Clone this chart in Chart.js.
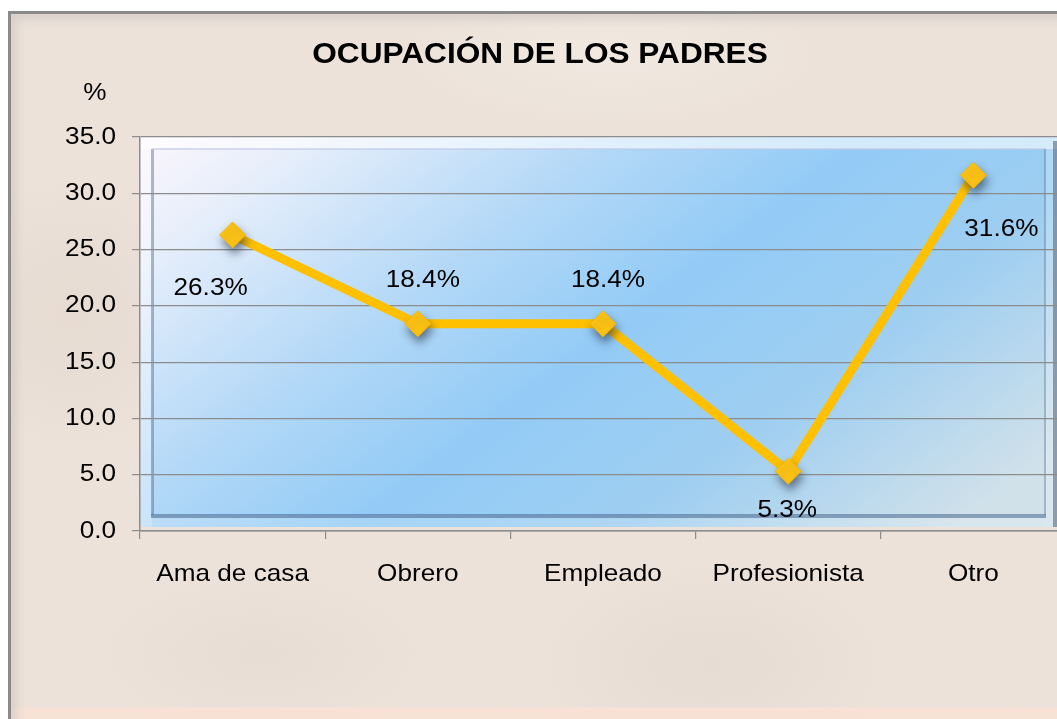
<!DOCTYPE html>
<html>
<head>
<meta charset="utf-8">
<script src="https://cdn.jsdelivr.net/npm/chart.js@4/dist/chart.umd.min.js"></script>
<style>
html,body{margin:0;padding:0;overflow:hidden;background:#fff;}
#slide{position:absolute;left:0;top:0;width:1057px;height:719px;overflow:hidden;background:#fff;}
#frame{position:absolute;left:8px;top:11px;width:1100px;height:740px;border:3px solid #8a8a8a;
  background:
    linear-gradient(to bottom, rgba(250,226,214,0) 693px, rgba(250,226,214,0.85) 694px),
    radial-gradient(ellipse 260px 150px at 700px 650px, rgba(215,205,200,0.30), rgba(215,205,200,0) 70%),
    radial-gradient(ellipse 300px 100px at 600px 40px, rgba(250,245,240,0.35), rgba(250,245,240,0) 70%),
    radial-gradient(ellipse 200px 200px at 60px 300px, rgba(220,205,195,0.35), rgba(220,205,195,0) 70%),
    radial-gradient(ellipse 250px 120px at 250px 640px, rgba(225,212,204,0.35), rgba(225,212,204,0) 70%),
    #ece2d9;
  box-shadow: inset 12px 12px 8px -6px rgba(200,195,190,0.55);}
canvas{position:absolute;left:0;top:0;}
</style>
</head>
<body>
<div id="slide">
  <div id="frame"></div>
  <canvas id="c" width="1080" height="740"></canvas>
</div>
<script>
// ---- data ----
const categories = ['Ama de casa', 'Obrero', 'Empleado', 'Profesionista', 'Otro'];
const values = [26.3, 18.4, 18.4, 5.3, 31.6];
const valueLabels = ['26.3%', '18.4%', '18.4%', '5.3%', '31.6%'];
const titleText = 'OCUPACIÓN DE LOS PADRES';
const yUnitText = '%';
const yMin = 0, yMax = 35, yStep = 5;

// ---- styling ----
const FONT = 'Arial, "Liberation Sans", sans-serif';
const SX = 1.09; // horizontal stretch of text in the reference
const labelOffsets = [[-22, 60], [5, -37], [5, -37], [-1, 46], [28, 61]];

const stretchText = {
  id: 'stretchText',
  beforeInit(chart) {
    const ctx = chart.ctx;
    const orig = ctx.fillText;
    ctx.fillText = function (t, x, y, mw) {
      this.save();
      this.translate(x, y);
      this.scale(SX, 1);
      if (mw === undefined) orig.call(this, t, 0, 0); else orig.call(this, t, 0, 0, mw / SX);
      this.restore();
    };
  }
};

const frame = {
  id: 'frame',
  beforeDraw(chart) {
    const ctx = chart.ctx;
    const a = chart.chartArea;
    const L = a.left, T = a.top, R = 1057, B = 527;
    const bw = 12;
    ctx.save();
    const g = ctx.createLinearGradient(L, T, L + 480, T + 640);
    g.addColorStop(0, '#fbf5fd');
    g.addColorStop(0.12, '#e8effb');
    g.addColorStop(0.35, '#b5d9f7');
    g.addColorStop(0.55, '#93cbf6');
    g.addColorStop(0.75, '#9ecef1');
    g.addColorStop(1, '#d0e1ea');
    ctx.fillStyle = g;
    ctx.fillRect(L, T, R - L, B - T);
    // bevel bands
    ctx.fillStyle = 'rgba(255,255,255,0.6)';
    ctx.fillRect(L, T, R - L, bw);
    ctx.fillStyle = 'rgba(255,255,255,0.35)';
    ctx.fillRect(L, T + bw, bw, B - T - bw);
    ctx.fillStyle = 'rgba(255,255,255,0.22)';
    ctx.fillRect(R - bw, T + bw, bw, B - T - bw);
    ctx.fillStyle = 'rgba(255,255,255,0.18)';
    ctx.fillRect(L + bw, B - bw, R - L - 2 * bw, bw);
    // inner edges
    ctx.fillStyle = 'rgba(80,105,140,0.45)';
    ctx.fillRect(L + bw - 1, T + bw, 3, B - T - 2 * bw);
    ctx.fillStyle = 'rgba(70,100,140,0.55)';
    ctx.fillRect(L + bw - 1, B - bw - 1, R - L - 2 * bw + 2, 4);
    ctx.fillStyle = 'rgba(190,200,230,0.6)';
    ctx.fillRect(L + bw, T + bw - 1, R - L - 2 * bw, 2);
    ctx.fillStyle = 'rgba(90,110,140,0.4)';
    ctx.fillRect(R - bw - 1, T + bw, 2, B - T - 2 * bw);
    ctx.fillStyle = 'rgba(90,105,125,0.6)';
    ctx.fillRect(R - 4, T + 4, 4, B - T - 4);
    ctx.restore();
  },
  afterDraw(chart) {
    const ctx = chart.ctx;
    ctx.save();
    ctx.fillStyle = '#000';
    ctx.textBaseline = 'alphabetic';
    ctx.textAlign = 'center';
    ctx.font = 'bold 29px ' + FONT;
    ctx.fillText(titleText, 540, 63);
    ctx.font = '24px ' + FONT;
    ctx.fillText(yUnitText, 95, 100);
    ctx.restore();
  }
};

const pointShadow = {
  id: 'pointShadow',
  beforeDatasetDraw(chart, args) {
    if (args.index === 1) {
      const ctx = chart.ctx;
      ctx.save();
      ctx.shadowColor = 'rgba(40,50,70,0.6)';
      ctx.shadowBlur = 9;
      ctx.shadowOffsetX = 2;
      ctx.shadowOffsetY = 6;
    }
  },
  afterDatasetDraw(chart, args) {
    if (args.index === 1) chart.ctx.restore();
  }
};

const dataLabels = {
  id: 'dataLabels',
  afterDatasetsDraw(chart) {
    const ctx = chart.ctx;
    const meta = chart.getDatasetMeta(1);
    ctx.save();
    ctx.fillStyle = '#000';
    ctx.font = '24px ' + FONT;
    ctx.textAlign = 'center';
    ctx.textBaseline = 'alphabetic';
    meta.data.forEach((pt, i) => {
      const o = labelOffsets[i];
      ctx.fillText(valueLabels[i], pt.x + o[0], pt.y + o[1]);
    });
    ctx.restore();
  }
};

new Chart(document.getElementById('c'), {
  type: 'line',
  data: {
    labels: categories,
    datasets: [
      {
        data: values,
        borderColor: '#ffc000',
        borderWidth: 9,
        pointRadius: 0,
        pointHoverRadius: 0,
        tension: 0,
        fill: false,
        order: 2
      },
      {
        data: values,
        showLine: false,
        pointStyle: 'rectRot',
        pointRadius: 13,
        pointBackgroundColor: '#ffc414',
        pointBorderColor: '#f5b800',
        pointBorderWidth: 1,
        order: 1
      }
    ]
  },
  options: {
    responsive: false,
    animation: false,
    devicePixelRatio: 1,
    events: [],
    layout: { padding: { top: 137, left: 0, right: 12, bottom: 0 } },
    plugins: { legend: { display: false }, title: { display: false }, tooltip: { enabled: false } },
    scales: {
      x: {
        offset: true,
        grid: { offset: true, drawOnChartArea: false, tickLength: 8, color: '#8c8c8c', lineWidth: 1.2 },
        border: { display: true, color: '#8c8c8c', width: 1.5 },
        ticks: { color: '#000', font: { family: FONT, size: 24 }, padding: 21, maxRotation: 0, autoSkip: false },
        afterFit(s) { s.height = 740 - 531; }
      },
      y: {
        min: yMin, max: yMax,
        grid: { color: '#8c8c8c', lineWidth: 1.2, tickLength: 8 },
        border: { display: true, color: '#8c8c8c', width: 1.5 },
        ticks: { stepSize: yStep, color: '#000', font: { family: FONT, size: 24 }, padding: 16,
          callback: v => Number(v).toFixed(1) },
        afterFit(s) { s.width = 140; }
      }
    }
  },
  plugins: [stretchText, frame, pointShadow, dataLabels]
});
</script>
</body>
</html>
